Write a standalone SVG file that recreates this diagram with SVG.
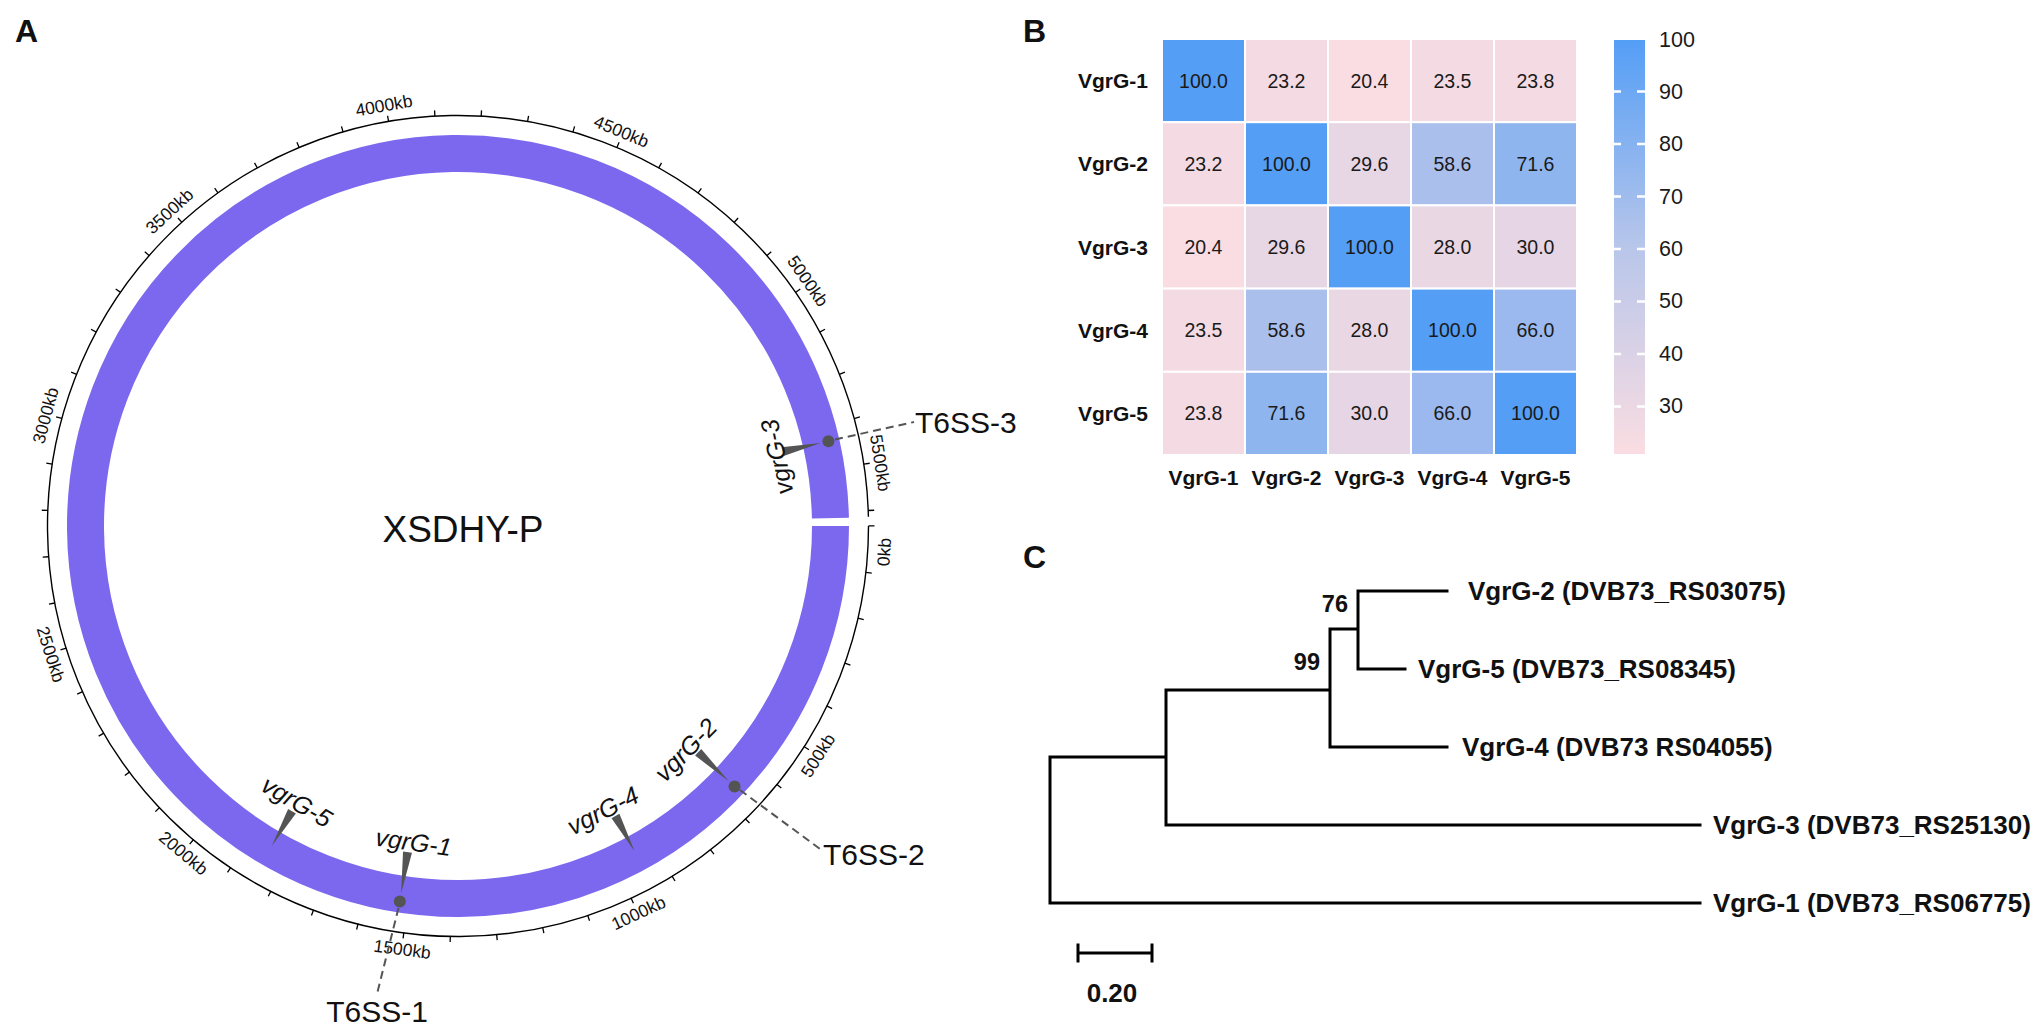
<svg xmlns="http://www.w3.org/2000/svg" width="2033" height="1025" viewBox="0 0 2033 1025">
<defs>
<style>
text{font-family:"Liberation Sans",Arial,sans-serif;fill:#111}
.pl{font-size:32px;font-weight:bold}
.tk{font-size:17.5px;text-anchor:middle;dominant-baseline:central}
.gn{font-size:25px;font-style:italic;text-anchor:middle}
.t6{font-size:30px}
.hv{font-size:19.5px;text-anchor:middle;dominant-baseline:central;fill:#1a1a1a}
.hl{font-size:21px;font-weight:bold;dominant-baseline:central}
.cb{font-size:21.5px;dominant-baseline:central;fill:#1a1a1a}
.lf{font-size:26px;font-weight:bold;dominant-baseline:central}
.bs{font-size:23.5px;font-weight:bold;text-anchor:end}
.wedge{fill:#545454}
.dot{fill:#545454}
.dash{fill:none;stroke:#555;stroke-width:2;stroke-dasharray:8 5}
.cell{stroke:#fff;stroke-width:2}
.tree{fill:none;stroke:#000;stroke-width:3;stroke-linecap:square}
</style>
<linearGradient id="cbg" x1="0" y1="0" x2="0" y2="1">
<stop offset="0" stop-color="#549EF6"/>
<stop offset="0.5" stop-color="#B8C6EA"/>
<stop offset="1" stop-color="#FADDE2"/>
</linearGradient>
</defs>
<rect width="2033" height="1025" fill="#fff"/>

<!-- Panel labels -->
<text class="pl" x="15" y="42">A</text>
<text class="pl" x="1023" y="42">B</text>
<text class="pl" x="1023" y="568">C</text>

<!-- Panel A: circular genome -->
<g id="genome">
<path d="M830.5 526 A372.5 372.5 0 0 1 85.52 529.9 A372.5 372.5 0 0 1 830.418 518.199" fill="none" stroke="#7B68EE" stroke-width="37"/>
<path d="M868.5 526 A410.5 410.5 0 0 1 47.526 530.657 A410.5 410.5 0 0 1 868.394 516.687" fill="none" stroke="#000" stroke-width="1.4"/>
<path d="M871.484 522.392 A413.5 413.5 0 0 1 44.516 529.608 A413.5 413.5 0 0 1 871.477 521.67" fill="none" stroke="#000" stroke-width="6" stroke-dasharray="1.3 45.6101" stroke-dashoffset="43.9516"/>
<text class="tk" transform="translate(884.2 552.1) rotate(-86.5)">0kb</text>
<text class="tk" transform="translate(818.1 755.4) rotate(-57.5)">500kb</text>
<text class="tk" transform="translate(638.5 913) rotate(-25)">1000kb</text>
<text class="tk" transform="translate(402.3 949.3) rotate(7.5)">1500kb</text>
<text class="tk" transform="translate(183.5 853.1) rotate(40)">2000kb</text>
<text class="tk" transform="translate(50.8 654.4) rotate(72.5)">2500kb</text>
<text class="tk" transform="translate(45.6 415.5) rotate(-75)">3000kb</text>
<text class="tk" transform="translate(169.5 211.2) rotate(-42.5)">3500kb</text>
<text class="tk" transform="translate(383.9 105.5) rotate(-10)">4000kb</text>
<text class="tk" transform="translate(621.4 131.5) rotate(22.5)">4500kb</text>
<text class="tk" transform="translate(807.8 281.1) rotate(55)">5000kb</text>
<text class="tk" transform="translate(880.3 462.9) rotate(81.5)">5500kb</text>
<text x="463" y="542" font-size="37" text-anchor="middle">XSDHY-P</text>
</g>

<g id="vgrG-1">
<polygon class="wedge" points="403.06,851.43 411.96,852.81 401.09,893.62"/>
<circle class="dot" cx="399.86" cy="901.53" r="6"/>
<text class="gn" transform="translate(412.4 850.8) rotate(8)">vgrG-1</text>
</g>
<g id="vgrG-2">
<polygon class="wedge" points="695.07,755.6 701.25,749.05 728.73,781.13"/>
<circle class="dot" cx="734.55" cy="786.61" r="6"/>
<text class="gn" transform="translate(691.9 755.9) rotate(-45.5)">vgrG-2</text>
</g>
<g id="vgrG-3">
<polygon class="wedge" points="783.6,456.05 781.6,447.27 820.61,442.95"/>
<circle class="dot" cx="828.41" cy="441.16" r="6"/>
<text class="gn" transform="translate(785.4 455.2) rotate(-102.2)">vgrG-3</text>
</g>
<g id="vgrG-4">
<polygon class="wedge" points="611.51,818.16 619.41,813.86 634.54,851.16"/>
<text class="gn" transform="translate(606.9 818.3) rotate(-27)">vgrG-4</text>
</g>
<g id="vgrG-5">
<polygon class="wedge" points="288.11,808.95 295.89,813.47 271.88,845.78"/>
<text class="gn" transform="translate(292.5 809.2) rotate(30.3)">vgrG-5</text>
</g>

<g id="T6SS-1"><text class="t6" x="377" y="1022" text-anchor="middle">T6SS-1</text></g>
<g id="T6SS-2"><text class="t6" x="823" y="865">T6SS-2</text></g>
<g id="T6SS-3"><text class="t6" x="915" y="433">T6SS-3</text></g>

<g id="connectors">
<path class="dash" d="M398.5 908 L377 994"/>
<path class="dash" d="M740 790 L821.5 850"/>
<path class="dash" d="M835 439.5 L914 422"/>
</g>

<!-- Panel B: heatmap -->
<g id="heatmap">
<rect class="cell" x="1162" y="39" width="83" height="83.2" fill="#549EF6"/>
<rect class="cell" x="1245" y="39" width="83" height="83.2" fill="#F4DBE3"/>
<rect class="cell" x="1328" y="39" width="83" height="83.2" fill="#FADDE2"/>
<rect class="cell" x="1411" y="39" width="83" height="83.2" fill="#F4DBE3"/>
<rect class="cell" x="1494" y="39" width="83" height="83.2" fill="#F3DAE3"/>
<rect class="cell" x="1162" y="122.2" width="83" height="83.2" fill="#F4DBE3"/>
<rect class="cell" x="1245" y="122.2" width="83" height="83.2" fill="#549EF6"/>
<rect class="cell" x="1328" y="122.2" width="83" height="83.2" fill="#E7D6E4"/>
<rect class="cell" x="1411" y="122.2" width="83" height="83.2" fill="#AABFEC"/>
<rect class="cell" x="1494" y="122.2" width="83" height="83.2" fill="#8FB5EF"/>
<rect class="cell" x="1162" y="205.4" width="83" height="83.2" fill="#FADDE2"/>
<rect class="cell" x="1245" y="205.4" width="83" height="83.2" fill="#E7D6E4"/>
<rect class="cell" x="1328" y="205.4" width="83" height="83.2" fill="#549EF6"/>
<rect class="cell" x="1411" y="205.4" width="83" height="83.2" fill="#EAD7E4"/>
<rect class="cell" x="1494" y="205.4" width="83" height="83.2" fill="#E6D5E4"/>
<rect class="cell" x="1162" y="288.6" width="83" height="83.2" fill="#F4DBE3"/>
<rect class="cell" x="1245" y="288.6" width="83" height="83.2" fill="#AABFEC"/>
<rect class="cell" x="1328" y="288.6" width="83" height="83.2" fill="#EAD7E4"/>
<rect class="cell" x="1411" y="288.6" width="83" height="83.2" fill="#549EF6"/>
<rect class="cell" x="1494" y="288.6" width="83" height="83.2" fill="#9BB9EE"/>
<rect class="cell" x="1162" y="371.8" width="83" height="83.2" fill="#F3DAE3"/>
<rect class="cell" x="1245" y="371.8" width="83" height="83.2" fill="#8FB5EF"/>
<rect class="cell" x="1328" y="371.8" width="83" height="83.2" fill="#E6D5E4"/>
<rect class="cell" x="1411" y="371.8" width="83" height="83.2" fill="#9BB9EE"/>
<rect class="cell" x="1494" y="371.8" width="83" height="83.2" fill="#549EF6"/>

<text class="hv" x="1203.5" y="80.6">100.0</text>
<text class="hv" x="1286.5" y="80.6">23.2</text>
<text class="hv" x="1369.5" y="80.6">20.4</text>
<text class="hv" x="1452.5" y="80.6">23.5</text>
<text class="hv" x="1535.5" y="80.6">23.8</text>
<text class="hv" x="1203.5" y="163.8">23.2</text>
<text class="hv" x="1286.5" y="163.8">100.0</text>
<text class="hv" x="1369.5" y="163.8">29.6</text>
<text class="hv" x="1452.5" y="163.8">58.6</text>
<text class="hv" x="1535.5" y="163.8">71.6</text>
<text class="hv" x="1203.5" y="247">20.4</text>
<text class="hv" x="1286.5" y="247">29.6</text>
<text class="hv" x="1369.5" y="247">100.0</text>
<text class="hv" x="1452.5" y="247">28.0</text>
<text class="hv" x="1535.5" y="247">30.0</text>
<text class="hv" x="1203.5" y="330.2">23.5</text>
<text class="hv" x="1286.5" y="330.2">58.6</text>
<text class="hv" x="1369.5" y="330.2">28.0</text>
<text class="hv" x="1452.5" y="330.2">100.0</text>
<text class="hv" x="1535.5" y="330.2">66.0</text>
<text class="hv" x="1203.5" y="413.4">23.8</text>
<text class="hv" x="1286.5" y="413.4">71.6</text>
<text class="hv" x="1369.5" y="413.4">30.0</text>
<text class="hv" x="1452.5" y="413.4">66.0</text>
<text class="hv" x="1535.5" y="413.4">100.0</text>

<text class="hl" x="1148" y="80.6" text-anchor="end">VgrG-1</text>
<text class="hl" x="1148" y="163.8" text-anchor="end">VgrG-2</text>
<text class="hl" x="1148" y="247" text-anchor="end">VgrG-3</text>
<text class="hl" x="1148" y="330.2" text-anchor="end">VgrG-4</text>
<text class="hl" x="1148" y="413.4" text-anchor="end">VgrG-5</text>
<text class="hl" x="1203.5" y="477" text-anchor="middle">VgrG-1</text>
<text class="hl" x="1286.5" y="477" text-anchor="middle">VgrG-2</text>
<text class="hl" x="1369.5" y="477" text-anchor="middle">VgrG-3</text>
<text class="hl" x="1452.5" y="477" text-anchor="middle">VgrG-4</text>
<text class="hl" x="1535.5" y="477" text-anchor="middle">VgrG-5</text>
</g>

<g id="colorbar">
<rect x="1614" y="40" width="31" height="414" fill="url(#cbg)"/>
<g stroke="#fff" stroke-width="2.5">
<path d="M1614 91.5H1621M1637 91.5H1645"/>
<path d="M1614 144H1621M1637 144H1645"/>
<path d="M1614 196.5H1621M1637 196.5H1645"/>
<path d="M1614 249H1621M1637 249H1645"/>
<path d="M1614 301.5H1621M1637 301.5H1645"/>
<path d="M1614 354H1621M1637 354H1645"/>
<path d="M1614 406.5H1621M1637 406.5H1645"/>
</g>
<text class="cb" x="1659" y="40">100</text>
<text class="cb" x="1659" y="92">90</text>
<text class="cb" x="1659" y="144">80</text>
<text class="cb" x="1659" y="197">70</text>
<text class="cb" x="1659" y="249">60</text>
<text class="cb" x="1659" y="301">50</text>
<text class="cb" x="1659" y="354">40</text>
<text class="cb" x="1659" y="406">30</text>
</g>

<!-- Panel C: tree -->
<g id="tree">
<path class="tree" d="M1050 757V903M1050 757H1166M1050 903H1700M1166 690V825M1166 690H1330M1166 825H1700M1330 629V747M1330 629H1358M1330 747H1447M1358 591V669M1358 591H1447M1358 669H1405"/>
<text class="bs" x="1348" y="612">76</text>
<text class="bs" x="1320" y="670">99</text>
</g>
<g id="leaf-VgrG-2"><text class="lf" x="1468" y="591">VgrG-2 (DVB73_RS03075)</text></g>
<g id="leaf-VgrG-5"><text class="lf" x="1418" y="669">VgrG-5 (DVB73_RS08345)</text></g>
<g id="leaf-VgrG-4"><text class="lf" x="1462" y="747">VgrG-4 (DVB73 RS04055)</text></g>
<g id="leaf-VgrG-3"><text class="lf" x="1713" y="825">VgrG-3 (DVB73_RS25130)</text></g>
<g id="leaf-VgrG-1"><text class="lf" x="1713" y="903">VgrG-1 (DVB73_RS06775)</text></g>
<g id="scalebar">
<path class="tree" stroke-linecap="butt" d="M1078 953H1152M1078 945V961M1152 945V961"/>
<text x="1112" y="1002" font-size="26" font-weight="bold" text-anchor="middle">0.20</text>
</g>
</svg>
